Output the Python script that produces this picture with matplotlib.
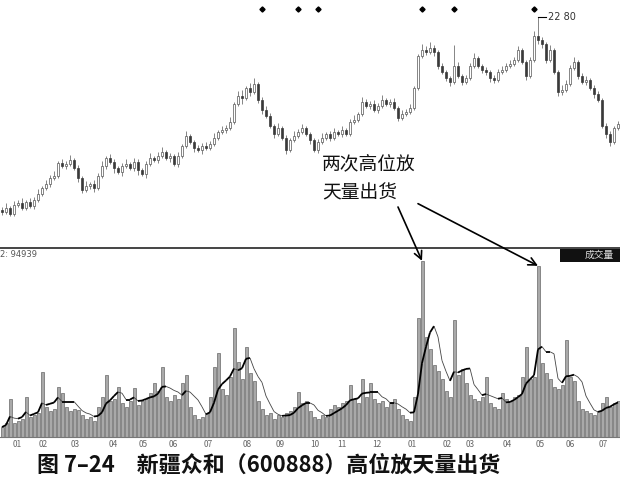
import numpy as np
import pandas as pd
import matplotlib.pyplot as plt
from matplotlib.collections import LineCollection
from matplotlib.patches import Rectangle

plt.rcParams['font.family'] = ['Noto Sans CJK SC', 'DejaVu Sans']

# ---- 日K线数据 ----
opens = [11.20, 11.10, 11.34, 10.98, 11.52, 11.64, 11.34, 11.70, 11.46, 11.82,
         12.18, 12.54, 12.78, 13.14, 13.26, 14.04, 13.86, 13.98, 14.22, 13.74,
         13.14, 12.42, 12.66, 12.78, 12.54, 13.26, 13.86, 14.34, 14.10, 13.74,
         13.50, 13.86, 13.98, 13.74, 14.10, 13.62, 13.38, 13.98, 14.34, 14.22,
         14.46, 14.70, 14.34, 14.46, 13.98, 14.46, 15.06, 15.66, 15.30, 14.94,
         14.82, 15.06, 14.94, 15.18, 15.54, 15.90, 16.02, 16.14, 16.50, 17.58,
         18.06, 17.94, 18.54, 18.30, 18.78, 17.82, 17.22, 16.86, 16.26, 15.78,
         16.14, 15.54, 14.82, 15.42, 15.66, 15.90, 16.14, 15.78, 15.42, 14.82,
         15.30, 15.54, 15.78, 15.54, 15.90, 15.78, 16.02, 15.78, 16.50, 16.62,
         16.98, 17.70, 17.46, 17.58, 17.22, 17.46, 17.82, 17.58, 17.70, 17.34,
         16.74, 16.98, 17.10, 17.34, 18.54, 20.46, 20.82, 20.70, 20.94, 20.70,
         19.86, 19.50, 19.14, 18.90, 19.86, 19.26, 18.90, 19.14, 19.86, 20.34,
         19.86, 19.62, 19.50, 19.14, 19.02, 19.50, 19.62, 19.86, 19.98, 20.22,
         20.82, 20.10, 19.26, 20.22, 21.66, 21.42, 21.18, 20.22, 20.82, 19.50,
         18.30, 18.42, 18.78, 19.74, 20.10, 19.26, 18.90, 19.02, 18.54, 18.18,
         17.82, 16.26, 15.78, 15.30, 16.14]
closes = [11.10, 11.34, 10.98, 11.52, 11.64, 11.34, 11.70, 11.46, 11.82, 12.18,
          12.54, 12.78, 13.14, 13.26, 14.04, 13.86, 13.98, 14.22, 13.74, 13.14,
          12.42, 12.66, 12.78, 12.54, 13.26, 13.86, 14.34, 14.10, 13.74, 13.50,
          13.86, 13.98, 13.74, 14.10, 13.62, 13.38, 13.98, 14.34, 14.22, 14.46,
          14.70, 14.34, 14.46, 13.98, 14.46, 15.06, 15.66, 15.30, 14.94, 14.82,
          15.06, 14.94, 15.18, 15.54, 15.90, 16.02, 16.14, 16.50, 17.58, 18.06,
          17.94, 18.54, 18.30, 18.78, 17.82, 17.22, 16.86, 16.26, 15.78, 16.14,
          15.54, 14.82, 15.42, 15.66, 15.90, 16.14, 15.78, 15.42, 14.82, 15.30,
          15.54, 15.78, 15.54, 15.90, 15.78, 16.02, 15.78, 16.50, 16.62, 16.98,
          17.70, 17.46, 17.58, 17.22, 17.46, 17.82, 17.58, 17.70, 17.34, 16.74,
          16.98, 17.10, 17.34, 18.54, 20.46, 20.82, 20.70, 20.94, 20.70, 19.86,
          19.50, 19.14, 18.90, 19.86, 19.26, 18.90, 19.14, 19.86, 20.34, 19.86,
          19.62, 19.50, 19.14, 19.02, 19.50, 19.62, 19.86, 19.98, 20.22, 20.82,
          20.10, 19.26, 20.22, 21.66, 21.42, 21.18, 20.22, 20.82, 19.50, 18.30,
          18.42, 18.78, 19.74, 20.10, 19.26, 18.90, 19.02, 18.54, 18.18, 17.82,
          16.26, 15.78, 15.30, 16.14, 16.38]
highs = [11.38, 11.64, 11.46, 11.76, 11.82, 11.94, 11.82, 11.94, 12.00, 12.48,
         12.66, 13.02, 13.32, 13.56, 14.16, 14.28, 14.16, 14.52, 14.34, 13.92,
         13.26, 12.96, 12.90, 13.02, 13.44, 14.16, 14.46, 14.58, 14.28, 13.86,
         14.04, 14.28, 14.10, 14.34, 14.28, 13.74, 14.16, 14.64, 14.46, 14.70,
         15.00, 14.82, 14.64, 14.58, 14.70, 15.18, 15.96, 15.78, 15.42, 15.12,
         15.24, 15.30, 15.36, 15.84, 16.02, 16.26, 16.32, 16.80, 17.70, 18.36,
         18.42, 18.66, 18.84, 19.14, 18.90, 18.00, 17.46, 17.04, 16.38, 16.44,
         16.26, 15.72, 15.54, 15.96, 16.08, 16.38, 16.26, 15.90, 15.54, 15.48,
         15.84, 15.90, 15.96, 16.14, 16.02, 16.26, 16.14, 16.68, 16.92, 17.10,
         18.00, 17.88, 17.76, 17.82, 17.64, 18.12, 17.94, 17.88, 17.94, 17.46,
         17.22, 17.28, 17.58, 18.66, 20.58, 21.18, 21.06, 21.30, 21.12, 20.82,
         20.04, 19.62, 19.26, 21.12, 20.10, 19.38, 19.32, 20.04, 20.64, 20.46,
         19.98, 19.80, 19.62, 19.32, 19.68, 19.86, 20.04, 20.22, 20.40, 21.06,
         20.94, 20.22, 20.40, 21.96, 22.80, 21.60, 21.30, 21.12, 20.94, 19.62,
         18.72, 19.02, 19.92, 20.40, 20.22, 19.44, 19.26, 19.14, 18.72, 18.36,
         17.94, 16.44, 15.96, 16.26, 16.56]
lows = [10.92, 10.98, 10.86, 10.86, 11.40, 11.22, 11.22, 11.34, 11.28, 11.70,
        12.06, 12.42, 12.60, 13.02, 13.14, 13.74, 13.68, 13.86, 13.62, 12.90,
        12.24, 12.30, 12.48, 12.30, 12.42, 13.14, 13.68, 13.98, 13.44, 13.38,
        13.26, 13.74, 13.62, 13.56, 13.32, 13.26, 13.14, 13.86, 14.10, 14.04,
        14.34, 14.22, 14.10, 13.86, 13.80, 14.34, 14.94, 15.18, 14.70, 14.70,
        14.58, 14.82, 14.82, 15.06, 15.42, 15.78, 15.84, 16.02, 16.38, 17.46,
        17.58, 17.82, 18.06, 18.18, 17.64, 16.98, 16.74, 16.14, 15.54, 15.66,
        15.42, 14.58, 14.70, 15.30, 15.54, 15.78, 15.66, 15.18, 14.70, 14.64,
        15.18, 15.42, 15.36, 15.42, 15.66, 15.60, 15.66, 15.66, 16.38, 16.50,
        16.86, 17.34, 17.28, 17.10, 17.04, 17.34, 17.46, 17.40, 17.22, 16.56,
        16.62, 16.86, 16.98, 17.22, 18.42, 20.34, 20.52, 20.58, 20.46, 19.68,
        19.38, 18.96, 18.66, 18.78, 19.14, 18.72, 18.78, 19.02, 19.74, 19.74,
        19.44, 19.32, 18.90, 18.84, 18.90, 19.38, 19.50, 19.74, 19.86, 20.10,
        19.98, 19.02, 19.14, 20.10, 21.18, 20.94, 20.04, 20.10, 19.38, 18.06,
        18.12, 18.30, 18.66, 19.62, 19.08, 18.78, 18.72, 18.42, 17.94, 17.70,
        16.14, 15.54, 15.06, 15.18, 16.02]
# 成交量（手）
volumes = [5000, 7000, 19000, 7000, 8000, 9000, 20000, 10000, 11000, 12000,
           32500, 15000, 13000, 14000, 25000, 22000, 15000, 13000, 14000, 13500,
           11000, 9000, 10000, 8000, 15000, 20000, 31000, 18000, 19000, 25000,
           17000, 15000, 18000, 24500, 16000, 18000, 19000, 22000, 27000, 23000,
           35000, 20000, 18000, 21000, 19000, 27000, 31000, 15000, 11000, 9000,
           10000, 12000, 20000, 35000, 42000, 24000, 21000, 30000, 55000, 37500,
           29000, 45000, 32000, 28000, 18000, 14000, 11000, 12000, 9000, 11000,
           10000, 12000, 13000, 15000, 22500, 17000, 18000, 13000, 10000, 9000,
           11000, 10000, 14000, 16000, 15000, 17000, 18000, 26000, 19000, 17000,
           29000, 20000, 27000, 19000, 17000, 18000, 15000, 17000, 19000, 14000,
           11000, 9000, 8000, 20000, 60000, 88500, 50000, 44000, 36000, 33000,
           29000, 23000, 20000, 59000, 31000, 34000, 27000, 21000, 19000, 18000,
           20000, 30000, 17000, 15000, 14000, 22000, 19000, 18000, 20000, 21000,
           30000, 45000, 29000, 30000, 86000, 37000, 32000, 29000, 25000, 24000,
           26000, 48500, 30000, 28000, 18000, 14000, 13000, 12000, 11000, 13000,
           17000, 20000, 15000, 17000, 18000]

months = ['01', '02', '03', '04', '05', '06', '07', '08', '09', '10',
          '11', '12', '01', '02', '03', '04', '05', '06', '07']
month_pos = [3.75, 10.25, 18.25, 27.75, 35.25, 42.75, 51.5, 61.25, 69.5, 78.25,
             85, 93.75, 102.5, 111.25, 117, 126.25, 134.5, 142, 150.25]
event_bars = [65, 74, 79, 105, 113, 133]   # 顶部信息地雷
peak_bar = 134
peak_price = 22.80
ma_window = 5

n = len(closes)
idx = np.arange(n)
o = np.array(opens); c = np.array(closes)
h = np.array(highs); l = np.array(lows)
v = np.array(volumes)

fig = plt.figure(figsize=(6.2, 4.84), dpi=100)
ax = fig.add_axes([0, (484 - 247) / 484, 1, 247 / 484])
axv = fig.add_axes([0, (484 - 437) / 484, 1, (437 - 248) / 484])

# ---- K线 ----
up = c >= o
ax.vlines(idx, l, h, color='#555555', lw=0.5, zorder=1)
body = np.maximum(np.abs(c - o), 0.05)
ax.bar(idx[up], body[up], bottom=o[up], width=0.45, facecolor='white',
       edgecolor='#555555', lw=0.5, zorder=2)
ax.bar(idx[~up], body[~up], bottom=c[~up], width=0.45, facecolor='#3a3a3a',
       edgecolor='#3a3a3a', lw=0.5, zorder=2)

ax.plot(event_bars, [23.28] * len(event_bars), 'D', color='black', ms=2.6)
ax.plot([peak_bar, peak_bar + 2], [peak_price, peak_price], color='black', lw=0.8)
ax.text(peak_bar + 2.5, peak_price, f'{peak_price:.2f}'.replace('.', ' '),
        fontsize=7, va='center', ha='left', color='#333333', family='DejaVu Sans')

ax.set_xlim(-0.5, n - 0.5)
ax.set_ylim(9.0, 23.82)
ax.axis('off')

ax.text(80, 14.6, '两次高位放\n天量出货', fontsize=13.5, va='top', ha='left',
        linespacing=1.5, color='#111111')

# ---- 成交量 ----
axv.bar(idx, v, width=0.75, color='#a9a9a9', edgecolor='#4d4d4d', lw=0.4)
ma = pd.Series(v).rolling(ma_window, min_periods=1).mean().values
segs = [[(i, ma[i]), (i + 1, ma[i + 1])] for i in range(n - 1)]
rising = [ma[i + 1] >= ma[i] for i in range(n - 1)]
axv.add_collection(LineCollection([s for s, r in zip(segs, rising) if r],
                                  colors='black', linewidths=1.3))
axv.add_collection(LineCollection([s for s, r in zip(segs, rising) if not r],
                                  colors='#444444', linewidths=0.6))

axv.set_xlim(-0.5, n - 0.5)
axv.set_ylim(0, 94939)
axv.set_yticks([])
axv.set_xticks(month_pos, months)
axv.tick_params(axis='x', length=0, pad=2, labelsize=6, labelcolor='#666666')
for s in ['left', 'right']:
    axv.spines[s].set_visible(False)
axv.spines['top'].set_color('#444444')
axv.spines['top'].set_linewidth(1.4)
axv.spines['bottom'].set_color('#777777')
axv.spines['bottom'].set_linewidth(0.8)

axv.text(0.0, 0.965, '2: 94939', transform=axv.transAxes, fontsize=6,
         color='#555555', va='center', ha='left', family='DejaVu Sans')
axv.add_patch(Rectangle((0.903, 0.928), 0.097, 0.067, transform=axv.transAxes,
                        facecolor='#111111', edgecolor='none', clip_on=False))
axv.text(0.99, 0.962, '成交量', transform=axv.transAxes, fontsize=7,
         color='#dddddd', va='center', ha='right')

# ---- 箭头 ----
for start, bar in [((99, 11.40), 105), ((104, 11.60), 134)]:
    axv.annotate('', xy=(bar, v[bar]), xycoords='data',
                 xytext=start, textcoords=ax.transData,
                 arrowprops=dict(arrowstyle='->', lw=1.2, color='black',
                                 mutation_scale=14, shrinkA=0, shrinkB=0))

fig.text(37 / 620, (484 - 465) / 484, '图 7–24　新疆众和（600888）高位放天量出货',
         fontsize=15.8, fontweight='bold', va='center', ha='left', color='#111111')

fig.savefig('out.png', dpi=100)
